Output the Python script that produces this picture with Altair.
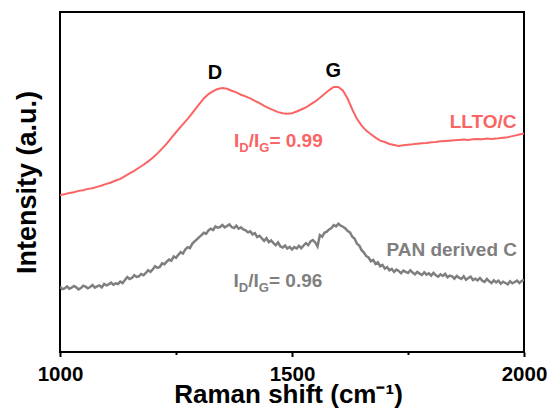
import altair as alt
import pandas as pd

FONT = "Liberation Sans"
RED = "#FA6464"
GREY = "#7F7F7F"

# LLTO/C spectrum, sampled every 10 cm-1
red_shift = list(range(1000, 2001, 10))
red_intensity = [
    46.9, 47.1, 47.5, 47.7, 48.1, 48.3, 48.7, 48.9, 49.3, 49.7,
    50.2, 50.6, 51.2, 51.7, 52.5, 53.3, 54.1, 55.0, 55.9, 56.9,
    58.0, 59.3, 60.7, 62.2, 63.9, 65.6, 67.2, 68.8, 70.4, 72.2,
    74.0, 75.7, 77.0, 77.9, 78.5, 78.8, 78.6, 78.0, 77.5, 76.8,
    76.3, 75.7, 75.0, 74.3, 73.5, 72.8, 72.2, 71.6, 71.3, 71.1,
    71.3, 71.8, 72.4, 73.0, 73.9, 74.8, 75.9, 77.0, 78.2, 79.1,
    79.1, 78.0, 75.6, 72.4, 69.6, 67.6, 66.1, 65.0, 64.0, 63.1,
    62.7, 62.1, 61.8, 61.5, 61.7, 61.9, 62.0, 62.2, 62.3, 62.4,
    62.6, 62.7, 62.9, 63.0, 63.1, 63.2, 63.3, 63.4, 63.3, 63.5,
    63.6, 63.5, 63.7, 63.6, 63.7, 63.9, 64.0, 64.3, 64.6, 64.9, 65.2,
]

# PAN derived C spectrum, sampled every 5 cm-1
grey_shift = list(range(1000, 2001, 5))
grey_intensity = [
    19.5, 18.8, 19.0, 19.6, 18.9, 19.2, 19.7, 19.3, 18.7, 19.1,
    19.8, 19.5, 19.0, 19.4, 20.0, 19.2, 19.6, 19.9, 19.3, 20.3,
    19.9, 20.2, 20.7, 20.1, 20.5, 20.3, 21.0, 20.6, 21.5, 22.4,
    21.8, 22.1, 22.9, 22.4, 22.6, 23.3, 22.9, 23.6, 24.4, 23.9,
    24.7, 25.6, 25.1, 25.4, 26.5, 26.2, 27.0, 27.6, 27.3, 28.5,
    28.1, 29.0, 29.8, 29.4, 30.6, 31.3, 31.0, 32.3, 33.0, 33.6,
    34.3, 34.9, 35.6, 35.3, 36.3, 36.8, 36.4, 37.5, 37.1, 37.3,
    37.9, 37.2, 37.6, 38.1, 37.3, 37.0, 37.7, 36.8, 37.2, 36.6,
    36.3, 35.7, 36.0, 35.1, 35.5, 34.3, 34.7, 33.9, 33.2, 34.0,
    32.8, 33.3, 32.5, 31.9, 32.7, 31.5, 31.2, 31.8, 30.9, 31.4,
    30.6, 31.3, 30.9, 31.7, 31.0, 31.8, 32.5, 31.9, 33.0, 33.4,
    32.7, 31.5, 34.9, 34.4, 35.6, 35.9, 36.6, 37.0, 37.9, 37.5,
    38.3, 37.7, 37.4, 36.9, 36.1, 35.7, 34.4, 33.8, 32.3, 31.8,
    30.4, 29.7, 28.6, 28.2, 27.1, 27.5, 26.3, 26.8, 25.6, 26.0,
    24.9, 25.3, 24.4, 24.8, 23.9, 24.6, 24.2, 23.5, 24.3, 23.9,
    23.6, 24.4, 23.7, 23.2, 23.9, 23.4, 23.0, 23.8, 23.1, 23.5,
    22.8, 23.6, 22.9, 22.5, 23.2, 22.7, 23.3, 22.3, 22.8, 22.6,
    21.9, 22.7, 22.2, 21.8, 22.6, 21.6, 22.1, 22.5, 21.5, 21.9,
    21.4, 22.1, 21.3, 20.9, 21.8, 21.1, 20.6, 21.4, 20.8, 21.3,
    20.4, 21.0, 20.6, 20.2, 21.1, 20.5, 20.9, 21.3, 20.6, 21.2, 21.5,
]

x_ticks = [1000, 1250, 1500, 1750, 2000]

x_scale = alt.Scale(domain=[1000, 2000], nice=False, zero=False)
y_scale = alt.Scale(domain=[0, 101.5], nice=False, zero=False)

x_axis = alt.Axis(
    values=x_ticks,
    format="d",
    labelExpr="datum.value % 500 === 0 ? datum.label : ''",
    labelFlush=False,
    labelFont=FONT,
    labelFontSize=20.5,
    labelFontWeight="bold",
    labelColor="black",
    labelBaseline="alphabetic",
    labelPadding=23.5,
    tickSize={"condition": {"test": "datum.value % 500 !== 0", "value": 2.5}, "value": 4.5},
    tickWidth=2,
    tickColor="black",
    domain=False,
    grid=False,
    title="Raman shift (cm⁻¹)",
    titleFont=FONT,
    titleFontSize=26,
    titleFontWeight="bold",
    titleColor="black",
    titleBaseline="alphabetic",
    titleX=228,
    titleY=50,
)

y_axis = alt.Axis(
    labels=False,
    ticks=False,
    domain=False,
    grid=False,
    title="Intensity (a.u.)",
    titleFont=FONT,
    titleFontSize=27,
    titleFontWeight="bold",
    titleColor="black",
    titleBaseline="alphabetic",
    titleAngle=270,
    titleX=-25,
    titleY=170,
)


def enc(chart):
    return chart.encode(
        x=alt.X("shift:Q", scale=x_scale, axis=x_axis),
        y=alt.Y("intensity:Q", scale=y_scale, axis=y_axis),
    )


def spectrum(shift, intensity, color, width):
    df = pd.DataFrame({"shift": shift, "intensity": intensity})
    return enc(alt.Chart(df).mark_line(color=color, strokeWidth=width, clip=True))


def label(text, shift, intensity, color, size, align="center", dx=0, dy=0):
    df = pd.DataFrame({"shift": [shift], "intensity": [intensity], "text": [text]})
    mark = alt.Chart(df).mark_text(
        font=FONT, fontWeight="bold", fontSize=size, color=color,
        align=align, baseline="alphabetic", dx=dx, dy=dy,
    )
    return enc(mark).encode(text="text:N")


def ratio(value, shift, intensity, color):
    # I_D / I_G written with subscripts, piece by piece
    pieces = [("I", 19, 0, 0), ("D", 13, 5.3, 5.5), ("/I", 19, 14.7, 0),
              ("G", 13, 25.3, 5.5), ("= " + value, 19, 35.4, 0)]
    return [label(t, shift, intensity, color, s, align="left", dx=dx, dy=dy)
            for t, s, dx, dy in pieces]


layers = [
    spectrum(grey_shift, grey_intensity, GREY, 2.5),
    spectrum(red_shift, red_intensity, RED, 2),
    label("D", 1334, 81.6, "black", 20),
    label("G", 1589, 82.1, "black", 20),
    label("LLTO/C", 1984, 66.9, RED, 19, align="right"),
    label("PAN derived C", 1985, 28.6, GREY, 19, align="right"),
    *ratio("0.99", 1375, 61.2, RED),
    *ratio("0.96", 1374, 19.5, GREY),
]

chart = (
    alt.layer(*layers)
    .properties(
        width=464,
        height=340,
        autosize=alt.AutoSizeParams(type="none"),
        padding={"left": 60, "top": 12, "right": 28, "bottom": 62},
        background="white",
    )
    .configure_view(stroke="black", strokeWidth=2)
)

chart.save("out.html", embed_options={"renderer": "svg", "actions": False})
